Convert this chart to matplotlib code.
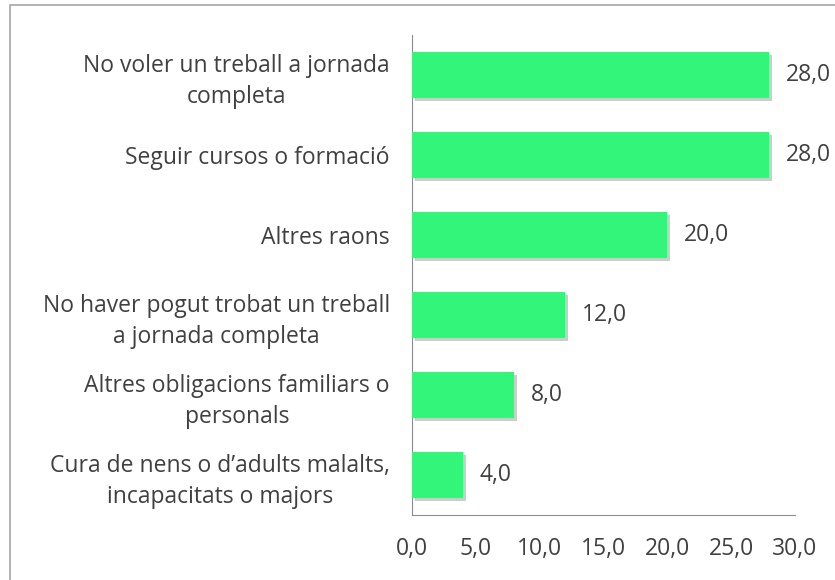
import matplotlib.pyplot as plt
import matplotlib.patheffects as pe
from matplotlib.patches import Rectangle

# Motius per treballar a jornada parcial (%)
reasons = [
    "No voler un treball a jornada\ncompleta",
    "Seguir cursos o formació",
    "Altres raons",
    "No haver pogut trobat un treball\na jornada completa",
    "Altres obligacions familiars o\npersonals",
    "Cura de nens o d\u2019adults malalts,\nincapacitats o majors",
]
values = [28.0, 28.0, 20.0, 12.0, 8.0, 4.0]
xticks = [0, 5, 10, 15, 20, 25, 30]

plt.rcParams['font.family'] = ['Open Sans', 'DejaVu Sans']
text_color = '#404040'
fsize = 16.5

fig = plt.figure(figsize=(8.35, 5.8), dpi=100)
ax = fig.add_axes([0.4934, 0.1121, 0.4586, 0.8276])

# gray frame around the chart area
fig.patches.append(Rectangle((10 / 835, -0.1), 1.2, 1 - 5 / 580 + 0.1,
                             transform=fig.transFigure, fill=False,
                             edgecolor='#a6a6a6', linewidth=1.2))

ypos = list(range(len(reasons)))[::-1]
shadow = [pe.SimplePatchShadow(offset=(2, -2), shadow_rgbFace='#808080', alpha=0.4),
          pe.Normal()]
bars = ax.barh(ypos, values, height=0.58, color='#33f57a', zorder=3)
for b in bars:
    b.set_path_effects(shadow)

for y, v in zip(ypos, values):
    ax.annotate(f"{v:.1f}".replace('.', ','), (v, y), xytext=(12, 0),
                textcoords='offset points', va='center', ha='left',
                fontsize=fsize, color=text_color)

ax.set_xlim(0, 30)
ax.set_ylim(-0.5, len(reasons) - 0.5)
ax.set_xticks(xticks)
ax.set_xticklabels([f"{t:.1f}".replace('.', ',') for t in xticks])
ax.set_yticks(ypos)
ax.set_yticklabels(reasons)
for lbl in ax.get_yticklabels():
    lbl.set_multialignment('center')
    lbl.set_linespacing(1.4)
ax.tick_params(axis='both', length=0, labelsize=fsize, labelcolor=text_color)
ax.tick_params(axis='x', pad=16)
ax.tick_params(axis='y', pad=16)

for side in ['top', 'right']:
    ax.spines[side].set_visible(False)
for side in ['left', 'bottom']:
    ax.spines[side].set_color('#8c8c8c')

plt.savefig('out.png', dpi=100)
